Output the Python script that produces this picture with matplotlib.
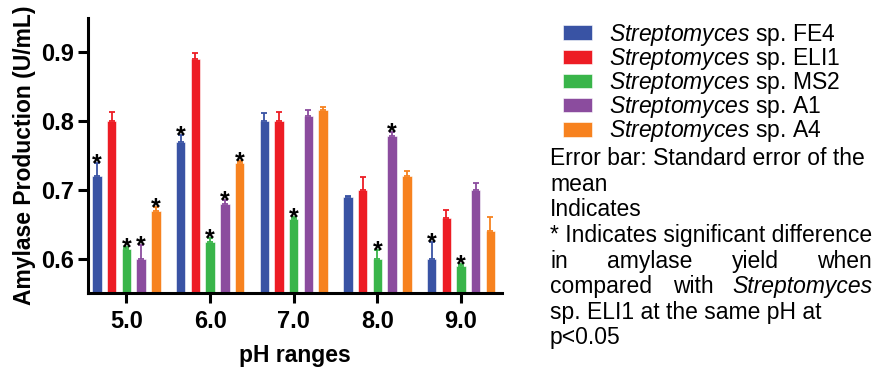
import numpy as np
import matplotlib
matplotlib.use("Agg")
import matplotlib.pyplot as plt

plt.rcParams['font.family'] = ['Liberation Sans', 'DejaVu Sans']
plt.rcParams['mathtext.fontset'] = 'custom'
plt.rcParams['mathtext.it'] = 'Liberation Sans:italic'
plt.rcParams['mathtext.rm'] = 'Liberation Sans'

# data
ph_labels = ['5.0', '6.0', '7.0', '8.0', '9.0']
strains = ['FE4', 'ELI1', 'MS2', 'A1', 'A4']
colors = ['#3953A4', '#ED1C24', '#39B54A', '#8B4C9E', '#F7821F']

fe4 = [0.72, 0.77, 0.80, 0.69, 0.60]
eli1 = [0.80, 0.89, 0.80, 0.70, 0.66]
ms2 = [0.615, 0.625, 0.658, 0.60, 0.59]
a1 = [0.60, 0.68, 0.808, 0.778, 0.70]
a4 = [0.67, 0.74, 0.816, 0.72, 0.64]

fe4_err = [0.02, 0.01, 0.012, 0.002, 0.025]
eli1_err = [0.013, 0.009, 0.014, 0.019, 0.011]
ms2_err = [0.002, 0.005, 0.003, 0.013, 0.002]
a1_err = [0.02, 0.005, 0.009, 0.006, 0.01]
a4_err = [0.005, 0.002, 0.004, 0.008, 0.021]

# significance stars: (strain index, pH index)
stars = [(0, 0), (2, 0), (3, 0), (4, 0),
         (0, 1), (2, 1), (3, 1), (4, 1),
         (2, 2),
         (2, 3), (3, 3),
         (0, 4), (2, 4)]

values = [fe4, eli1, ms2, a1, a4]
errors = [fe4_err, eli1_err, ms2_err, a1_err, a4_err]

fig = plt.figure(figsize=(8.77, 3.71), dpi=100)
ax = fig.add_axes([0.1003, 0.2094, 0.4721, 0.7421])

x = np.arange(len(ph_labels))
pitch = 0.176
width = 0.114
handles = []
for i, (vals, errs, c) in enumerate(zip(values, errors, colors)):
    pos = x + (i - 2) * pitch
    b = ax.bar(pos, vals, width, color=c, edgecolor='white', linewidth=0.4,
               yerr=[np.zeros(len(errs)), errs],
               error_kw=dict(ecolor=c, elinewidth=1.3, capsize=2.5, capthick=1.3))
    handles.append(b)

for i, j in stars:
    xp = x[j] + (i - 2) * pitch
    yp = values[i][j] + errors[i][j]
    ax.annotate('*', (xp, yp), xytext=(0, -6), textcoords='offset points',
                ha='center', va='baseline', fontsize=18, fontweight='bold')

ax.set_ylim(0.55, 0.95)
ax.set_xlim(-0.46, 4.49)
ax.set_yticks([0.6, 0.7, 0.8, 0.9])
ax.set_yticklabels(['0.6', '0.7', '0.8', '0.9'])
ax.set_xticks(x)
ax.set_xticklabels(ph_labels)
for lab in ax.get_xticklabels() + ax.get_yticklabels():
    lab.set_fontweight('bold')
    lab.set_fontsize(17)
ax.tick_params(width=2.2, length=7, pad=5)
ax.tick_params(axis='y', pad=3)
ax.spines['top'].set_visible(False)
ax.spines['right'].set_visible(False)
ax.spines['left'].set_linewidth(2.2)
ax.spines['bottom'].set_linewidth(2.2)
ax.set_ylabel('Amylase Production (U/mL)', fontsize=16.5, fontweight='bold')
ax.yaxis.set_label_coords(-0.125, 0.5)
ax.set_xlabel('pH ranges', fontsize=16.5, fontweight='bold', labelpad=8)

labels = [r'$\it{Streptomyces}$ sp. ' + s for s in strains]
fig.legend(handles, labels, loc='upper left', bbox_to_anchor=(0.642, 0.9415),
           frameon=False, fontsize=16.5, handlelength=1.27, handleheight=0.6,
           handletextpad=0.74, labelspacing=-0.08, borderaxespad=0, borderpad=0)

# note text
fs = 16.5
def ypix(p):
    return 1 - (p + 7) / 371.0

left = 550 / 877.0
right = 872 / 877.0
fig.text(left, ypix(158), 'Error bar: Standard error of the', fontsize=fs, va='baseline')
fig.text(left, ypix(184), 'mean', fontsize=fs, va='baseline')
fig.text(left, ypix(209), 'Indicates', fontsize=fs, va='baseline')
fig.text(left, ypix(235), '* Indicates significant difference', fontsize=fs, va='baseline')
words = ['in', 'amylase', 'yield', 'when']
wx = [550, 607, 732, 872]
fig.text(wx[0] / 877.0, ypix(261), words[0], fontsize=fs, va='baseline')
fig.text(wx[1] / 877.0, ypix(261), words[1], fontsize=fs, va='baseline')
fig.text(wx[2] / 877.0, ypix(261), words[2], fontsize=fs, va='baseline')
fig.text(right, ypix(261), words[3], fontsize=fs, va='baseline', ha='right')
fig.text(left, ypix(286), 'compared', fontsize=fs, va='baseline')
fig.text(673 / 877.0, ypix(286), 'with', fontsize=fs, va='baseline')
fig.text(right, ypix(286), 'Streptomyces', fontsize=fs, va='baseline', ha='right', style='italic')
fig.text(left, ypix(312), 'sp. ELI1 at the same pH at', fontsize=fs, va='baseline')
fig.text(left, ypix(337), 'p<0.05', fontsize=fs, va='baseline')

fig.savefig('out.png', dpi=100)
